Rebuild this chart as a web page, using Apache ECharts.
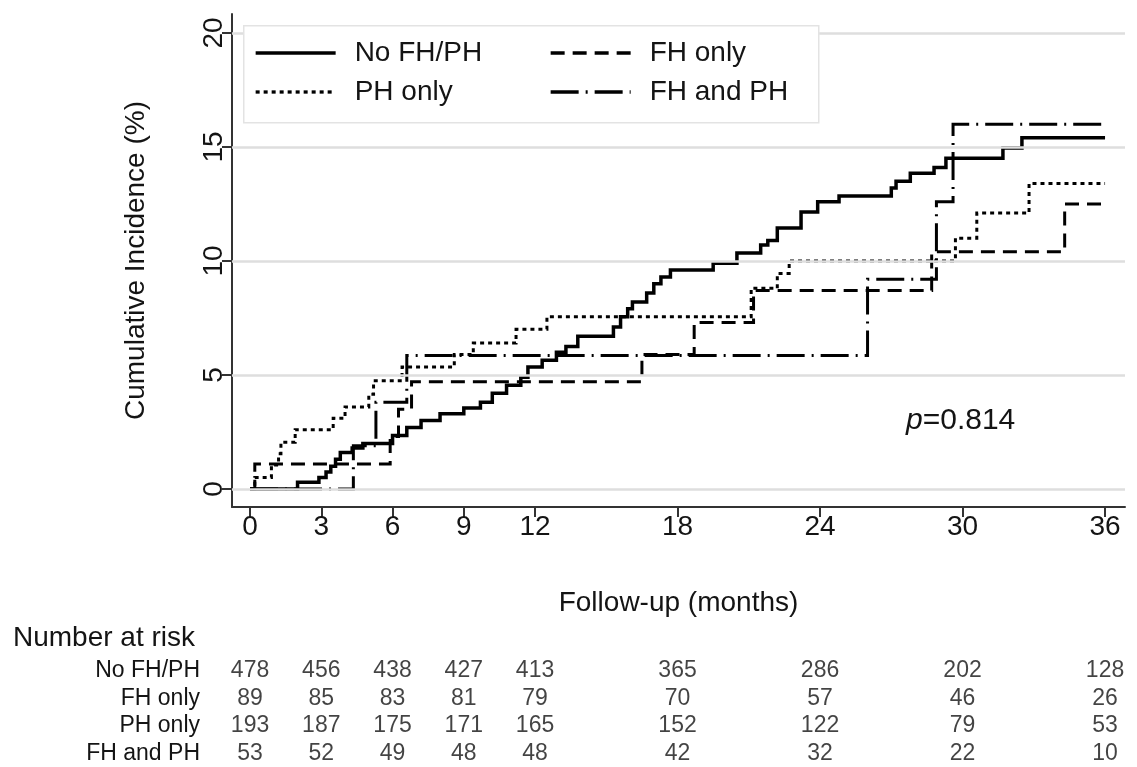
<!DOCTYPE html>
<html>
<head>
<meta charset="utf-8">
<script src="https://cdn.jsdelivr.net/npm/echarts@6/dist/echarts.min.js"></script>
<style>
html,body{margin:0;padding:0;background:#fff;}
#c{width:1137px;height:767px;}
</style>
</head>
<body>
<div id="c"></div>
<script>
// ---- data ----
const groupNames = ['No FH/PH', 'FH only', 'PH only', 'FH and PH'];
const xTicks = [0, 3, 6, 9, 12, 18, 24, 30, 36];
const yTicks = [0, 5, 10, 15, 20];

const noFhPhTimes = [0, 2.0, 2.9, 3.2, 3.4, 3.6, 3.8, 4.3, 4.75, 6.0, 6.6, 7.2, 8.0, 9.0, 9.7, 10.2, 10.8, 11.4, 11.7, 12.3, 12.9, 13.3, 13.8, 15.3, 15.6, 15.9, 16.1, 16.7, 17.0, 17.3, 17.7, 19.5, 20.5, 21.5, 21.8, 22.2, 23.2, 23.9, 24.8, 27.0, 27.2, 27.8, 28.8, 29.3, 31.7, 32.5, 36];
const noFhPhValues = [0, 0.3, 0.5, 0.75, 1.0, 1.3, 1.6, 1.8, 2.0, 2.35, 2.7, 3.0, 3.3, 3.55, 3.8, 4.2, 4.55, 4.9, 5.35, 5.65, 6.0, 6.25, 6.7, 7.1, 7.55, 7.9, 8.2, 8.6, 9.0, 9.3, 9.6, 9.9, 10.35, 10.7, 10.9, 11.45, 12.15, 12.6, 12.85, 13.2, 13.5, 13.85, 14.1, 14.5, 14.95, 15.4, 15.4];

const fhOnlyTimes = [0, 0.2, 5.9, 6.25, 6.8, 16.5, 18.7, 21.2, 28.7, 34.3, 36];
const fhOnlyValues = [0, 1.1, 2.3, 3.5, 4.7, 5.9, 7.3, 8.7, 10.4, 12.5, 12.5];

const phOnlyTimes = [0, 0.2, 0.9, 1.2, 1.3, 1.9, 3.5, 4.0, 5.0, 5.2, 6.4, 8.6, 9.4, 11.2, 12.5, 21.1, 22.2, 22.7, 29.7, 30.6, 32.8, 36];
const phOnlyValues = [0, 0.5, 1.05, 1.55, 2.05, 2.6, 3.1, 3.6, 4.15, 4.75, 5.35, 5.9, 6.4, 7.0, 7.55, 8.8, 9.45, 10.0, 11.0, 12.1, 13.4, 13.4];

const fhPhTimes = [0, 4.35, 5.3, 6.6, 26.0, 28.9, 29.6, 36];
const fhPhValues = [0, 1.9, 3.8, 5.85, 9.2, 12.6, 16.0, 16.0];

const atRiskNoFhPh = [478, 456, 438, 427, 413, 365, 286, 202, 128];
const atRiskFhOnly = [89, 85, 83, 81, 79, 70, 57, 46, 26];
const atRiskPhOnly = [193, 187, 175, 171, 165, 152, 122, 79, 53];
const atRiskFhPh = [53, 52, 49, 48, 48, 42, 32, 22, 10];

const pValueText = '0.814';

// ---- build ----
const FONT = '"Liberation Sans", Arial, Helvetica, sans-serif';
const TXT = '#141414';
const zip = (a, b) => a.map((t, i) => [t, b[i]]);
const xMin = -0.76, xMax = 36.84;

const curveDefs = [
  {name: groupNames[0], t: noFhPhTimes, v: noFhPhValues, type: 'solid', width: 3.5},
  {name: groupNames[1], t: fhOnlyTimes, v: fhOnlyValues, type: [14, 8], width: 3},
  {name: groupNames[2], t: phOnlyTimes, v: phOnlyValues, type: [4, 4], width: 3},
  {name: groupNames[3], t: fhPhTimes, v: fhPhValues, type: [28, 7, 2, 7], width: 3}
];

const riskRows = [atRiskNoFhPh, atRiskFhOnly, atRiskPhOnly, atRiskFhPh];

const series = [];
series.push({
  type: 'line', xAxisIndex: 0, yAxisIndex: 0, z: 1, silent: true,
  data: [[0, 0]], symbol: 'none', lineStyle: {opacity: 0},
  markLine: {
    silent: true, symbol: 'none', animation: false,
    label: {show: false},
    lineStyle: {color: '#dedede', width: 2.5, type: 'solid'},
    data: yTicks.map(v => ({yAxis: v}))
  }
});
curveDefs.forEach(c => {
  series.push({
    name: c.name, type: 'line', step: 'end', xAxisIndex: 0, yAxisIndex: 0, z: 3,
    data: zip(c.t, c.v), symbol: 'none', showSymbol: false,
    lineStyle: {color: '#000', width: c.width, type: c.type, cap: 'butt', join: 'miter'},
    itemStyle: {color: '#000'}
  });
});
riskRows.forEach((row, r) => {
  series.push({
    type: 'scatter', xAxisIndex: 1, yAxisIndex: 1, silent: true,
    symbolSize: 1, itemStyle: {color: 'rgba(0,0,0,0)'},
    data: row.map((n, i) => [xTicks[i], groupNames[r], n]),
    label: {show: true, position: 'inside', formatter: p => String(p.value[2]),
      color: TXT, fontFamily: FONT, fontSize: 23}
  });
});

const legendCommon = {
  orient: 'vertical', padding: 0, itemGap: 9, itemWidth: 80, itemHeight: 16,
  z: 10, selectedMode: false,
  itemStyle: {opacity: 0},
  lineStyle: {width: 3.3},
  textStyle: {fontFamily: FONT, fontSize: 28, color: TXT, lineHeight: 30, padding: [0, 0, 0, 14]}
};

const option = {
  animation: false,
  backgroundColor: '#fff',
  grid: [
    {left: 232, right: 12, top: 14, bottom: 260, containLabel: false},
    {left: 232, right: 12, top: 657, height: 115, containLabel: false}
  ],
  xAxis: [
    {
      type: 'value', gridIndex: 0, min: xMin, max: xMax,
      name: 'Follow-up (months)', nameLocation: 'middle', nameGap: 82,
      nameTextStyle: {fontFamily: FONT, fontSize: 28, color: TXT},
      axisLine: {show: true, onZero: false, lineStyle: {color: '#333', width: 2}},
      axisTick: {show: true, length: 10, lineStyle: {color: '#333', width: 2}, customValues: xTicks},
      axisLabel: {show: true, customValues: xTicks, fontFamily: FONT, fontSize: 28, color: TXT, margin: 6},
      splitLine: {show: false}
    },
    {
      type: 'value', gridIndex: 1, min: xMin, max: xMax, show: false
    }
  ],
  yAxis: [
    {
      type: 'value', gridIndex: 0, min: -0.79, max: 20.83,
      name: 'Cumulative Incidence (%)', nameLocation: 'middle', nameGap: 82, nameRotate: 90,
      nameTextStyle: {fontFamily: FONT, fontSize: 28, color: TXT},
      axisLine: {show: true, onZero: false, lineStyle: {color: '#333', width: 2}},
      axisTick: {show: true, length: 10, lineStyle: {color: '#333', width: 2}, customValues: yTicks},
      axisLabel: {show: true, customValues: yTicks, rotate: 90, fontFamily: FONT, fontSize: 28, color: TXT, margin: 4},
      splitLine: {show: false}
    },
    {
      type: 'category', gridIndex: 1, data: groupNames, inverse: true,
      axisLine: {show: false}, axisTick: {show: false}, splitLine: {show: false},
      axisLabel: {interval: 0, fontFamily: FONT, fontSize: 23, color: TXT, margin: 32, align: 'right'}
    }
  ],
  legend: [
    Object.assign({}, legendCommon, {data: [groupNames[0], groupNames[2]], left: 254, top: 38}),
    Object.assign({}, legendCommon, {data: [groupNames[1], groupNames[3]], left: 549, top: 38})
  ],
  graphic: [
    {type: 'rect', left: 243, top: 25, z: 8,
      shape: {width: 575, height: 97},
      style: {fill: '#fff', stroke: '#e3e3e3', lineWidth: 1.5}},
    {type: 'text', left: 13, top: 624, z: 10,
      style: {text: 'Number at risk', fontFamily: FONT, fontSize: 28, fill: TXT}},
    {type: 'text', left: 906, top: 406, z: 10,
      style: {
        text: '{i|p}{n|=' + pValueText + '}',
        rich: {
          i: {fontFamily: FONT, fontSize: 30, fontStyle: 'italic', fill: TXT},
          n: {fontFamily: FONT, fontSize: 30, fill: TXT}
        }
      }}
  ],
  series: series
};

const chart = echarts.init(document.getElementById('c'), null, {renderer: 'canvas'});
chart.setOption(option);
</script>
</body>
</html>
